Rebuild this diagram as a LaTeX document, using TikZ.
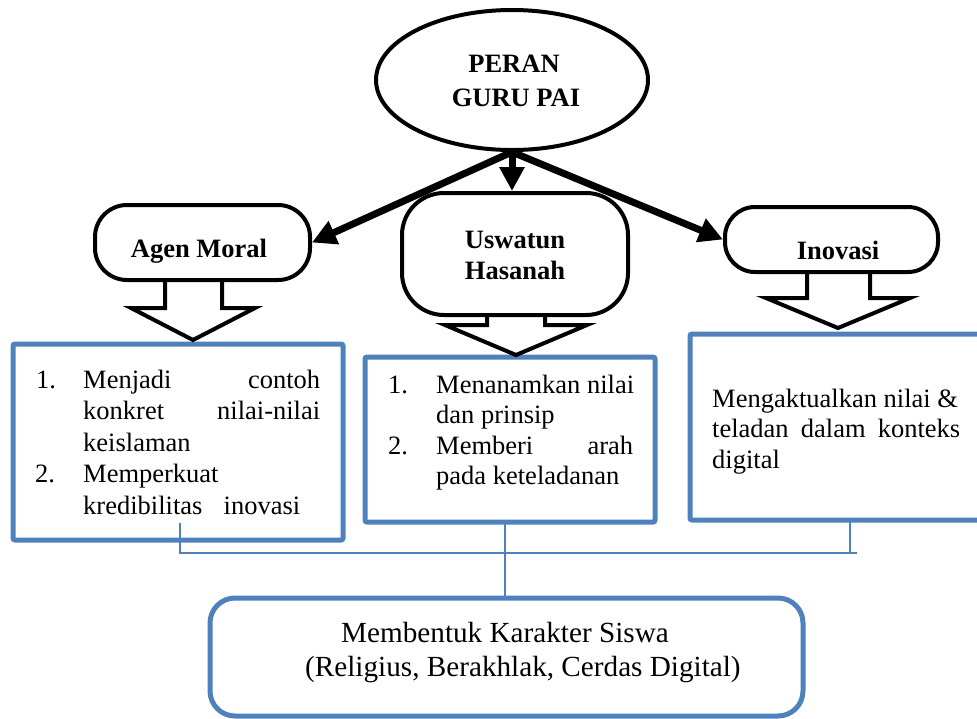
\documentclass[tikz,border=0pt]{standalone}
\usepackage{fontspec}
\setmainfont{Liberation Serif}
\usetikzlibrary{arrows.meta,shapes.geometric,calc}
\definecolor{obl}{RGB}{79,129,189}
\tikzset{
  body/.style={font=\fontsize{26.5}{31}\selectfont, inner sep=0pt, anchor=base west},
  headtxt/.style={font=\bfseries\fontsize{26.5}{31}\selectfont, inner sep=0pt, anchor=base},
  bigtxt/.style={font=\fontsize{29.2}{34}\selectfont, inner sep=0pt, anchor=base west},
  pill/.style={draw=black, line width=4pt, fill=white, inner sep=0pt, rectangle},
  bluebox/.style={draw=obl, line width=5pt, rounded corners=2pt, fill=white, inner sep=0pt, rectangle},
  thickarrow/.style={line width=7pt, -{Triangle[length=24pt,width=24pt]}},
  hollow/.style={draw=black, line width=4pt, fill=white, line join=miter},
  conn/.style={draw=obl, line width=2pt}
}
\begin{document}
\begin{tikzpicture}[x=1pt,y=-1pt]
\useasboundingbox (0,0) rectangle (977,718);

% blue boxes
\node[bluebox, minimum width=330pt, minimum height=196pt] (b1) at (178,442) {};
\node[bluebox, minimum width=290pt, minimum height=165pt] (b2) at (510,439.5) {};
\node[bluebox, minimum width=300pt, minimum height=186pt] (b3) at (840,427) {};
\node[bluebox, rounded corners=25pt, minimum width=593pt, minimum height=118pt] (b4) at (506.5,657) {};

% hollow block arrows
\draw[hollow] (165,280) -- (165,308) -- (131,308) -- (193,340) -- (255,308) -- (222,308) -- (222,280);
\draw[hollow] (487,313) -- (487,325) -- (445,325) -- (516,355) -- (587,325) -- (545,325) -- (545,313);
\draw[hollow] (807,270) -- (807,298) -- (766,298) -- (838,328) -- (910,298) -- (870,298) -- (870,270);

% role boxes
\node[pill, rounded corners=32pt, minimum width=215pt, minimum height=75pt] (agen) at (202.5,242.5) {};
\node[pill, rounded corners=42pt, minimum width=226pt, minimum height=122pt] (usw) at (515,254) {};
\node[pill, rounded corners=30pt, minimum width=213pt, minimum height=65pt] (inov) at (831.5,239.5) {};

% ellipse
\node[ellipse, draw=black, line width=4pt, fill=white, minimum width=272pt, minimum height=140pt, inner sep=0pt] (peran) at (512,80) {};

% thick arrows
\draw[thickarrow] (peran.south) -- (agen.east);
\draw[thickarrow] (peran.south) -- (peran.south |- usw.north);
\draw[thickarrow] (peran.south) -- (inov.west);

% connectors
\coordinate (s1) at (180,523);
\coordinate (jl) at (180,553);
\coordinate (jr) at (857,553);
\coordinate (s2) at (505,522);
\coordinate (s3) at (850,520);
\draw[conn] (s1) -- (jl) -- (jr);
\draw[conn] (s3) -- (s3 |- jl);
\draw[conn] (s2) -- (s2 |- b4.north);

% texts
\node[headtxt] (t0a) at (514,72) {PERAN};
\node[headtxt] (t0b) at (516,106) {GURU PAI};
\node[headtxt] (tag) at (199,257) {Agen Moral};
\node[headtxt] (tus1) at (515,248) {Uswatun};
\node[headtxt] (tus2) at (515,279) {Hasanah};
\node[headtxt] (tin) at (838,259) {Inovasi};

\node[body] (n11) at (36,388) {1.};
\node[body] (l11) at (83,388) {\makebox[237pt][s]{Menjadi\hfill contoh}};
\node[body] (l12) at (83,419.5) {\makebox[237pt][s]{konkret\hfill nilai-nilai}};
\node[body] (l13) at (83,451) {keislaman};
\node[body] (n12) at (35,482.5) {2.};
\node[body] (l14) at (83,482.5) {Memperkuat};
\node[body] (l15) at (83,514) {\makebox[217pt][s]{kredibilitas\hfill inovasi}};

\node[body] (n21) at (388,393) {1.};
\node[body] (l21) at (436,393) {Menanamkan nilai};
\node[body] (l22) at (436,423.5) {dan prinsip};
\node[body] (n22) at (388,454) {2.};
\node[body] (l23) at (436,454) {\makebox[197pt][s]{Memberi\hfill arah}};
\node[body] (l24) at (436,484.5) {pada keteladanan};

\node[body] (l31) at (712,407) {Mengaktualkan nilai \&};
\node[body] (l32) at (712,437.5) {\makebox[248pt][s]{teladan dalam konteks}};
\node[body] (l33) at (712,468) {digital};

\node[bigtxt] (l41) at (341,642) {Membentuk Karakter Siswa};
\node[bigtxt] (l42) at (305,676) {(Religius, Berakhlak, Cerdas Digital)};
\end{tikzpicture}
\end{document}
